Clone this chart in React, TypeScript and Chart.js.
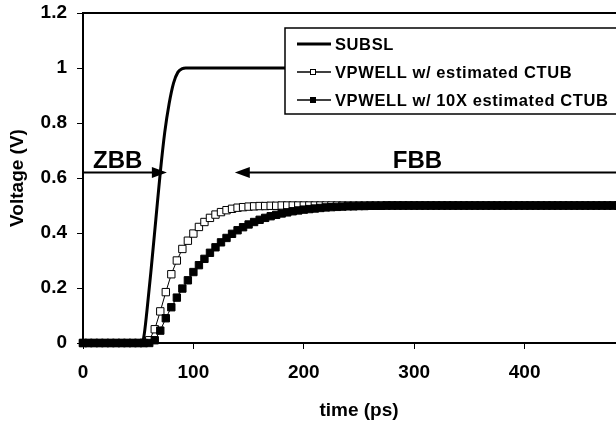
import { useEffect, useRef } from "react";
import { Chart, registerables } from "chart.js";

Chart.register(...registerables);

// ---------- data ----------
const timePs = [
  0, 5, 10, 15, 20, 25, 30, 35, 40, 45, 50, 55, 60, 65, 70, 75, 80, 85, 90, 95,
  100, 105, 110, 115, 120, 125, 130, 135, 140, 145, 150, 155, 160, 165, 170, 175, 180, 185, 190, 195,
  200, 205, 210, 215, 220, 225, 230, 235, 240, 245, 250, 255, 260, 265, 270, 275, 280, 285, 290, 295,
  300, 305, 310, 315, 320, 325, 330, 335, 340, 345, 350, 355, 360, 365, 370, 375, 380, 385, 390, 395,
  400, 405, 410, 415, 420, 425, 430, 435, 440, 445, 450, 455, 460, 465, 470, 475, 480, 485, 490, 495,
  500,
];

const vpwellEstimated = [
  0, 0, 0, 0, 0, 0, 0, 0, 0, 0, 0, 0, 0.01, 0.05, 0.115, 0.185, 0.25, 0.3, 0.342, 0.372,
  0.398, 0.422, 0.44, 0.455, 0.467, 0.476, 0.483, 0.488, 0.492, 0.494, 0.496, 0.497, 0.498, 0.498, 0.499, 0.499, 0.5, 0.5, 0.5, 0.5,
  0.5, 0.5, 0.5, 0.5, 0.5, 0.5, 0.5, 0.5, 0.5, 0.5, 0.5, 0.5, 0.5, 0.5, 0.5, 0.5, 0.5, 0.5, 0.5, 0.5,
  0.5, 0.5, 0.5, 0.5, 0.5, 0.5, 0.5, 0.5, 0.5, 0.5, 0.5, 0.5, 0.5, 0.5, 0.5, 0.5, 0.5, 0.5, 0.5, 0.5,
  0.5, 0.5, 0.5, 0.5, 0.5, 0.5, 0.5, 0.5, 0.5, 0.5, 0.5, 0.5, 0.5, 0.5, 0.5, 0.5, 0.5, 0.5, 0.5, 0.5,
  0.5,
];

const vpwell10x = [
  0, 0, 0, 0, 0, 0, 0, 0, 0, 0, 0, 0, 0, 0.01, 0.045, 0.09, 0.13, 0.165, 0.198, 0.228,
  0.258, 0.283, 0.306, 0.328, 0.348, 0.366, 0.382, 0.397, 0.41, 0.421, 0.431, 0.44, 0.448, 0.455, 0.461, 0.466, 0.471, 0.475, 0.479, 0.482,
  0.485, 0.487, 0.489, 0.491, 0.493, 0.494, 0.495, 0.496, 0.497, 0.497, 0.498, 0.498, 0.499, 0.499, 0.499, 0.5, 0.5, 0.5, 0.5, 0.5,
  0.5, 0.5, 0.5, 0.5, 0.5, 0.5, 0.5, 0.5, 0.5, 0.5, 0.5, 0.5, 0.5, 0.5, 0.5, 0.5, 0.5, 0.5, 0.5, 0.5,
  0.5, 0.5, 0.5, 0.5, 0.5, 0.5, 0.5, 0.5, 0.5, 0.5, 0.5, 0.5, 0.5, 0.5, 0.5, 0.5, 0.5, 0.5, 0.5, 0.5,
  0.5,
];

const subslTime = [0, 52, 55, 58, 62, 66, 70, 74, 78, 82, 86, 90, 93, 500];
const subslV = [0, 0, 0.02, 0.12, 0.28, 0.45, 0.62, 0.765, 0.87, 0.945, 0.985, 0.998, 1, 1];

const seriesLabels = ["SUBSL", "VPWELL w/ estimated CTUB", "VPWELL w/ 10X estimated CTUB"];
const xTitle = "time (ps)";
const yTitle = "Voltage (V)";

// annotation values (data units)
const annotationV = 0.623;
const zbbTip = 76;
const fbbTip = 137.5;
const zbbLabelT = 31.5;
const fbbLabelT = 303;

const FONT = '"Liberation Sans", Arial, sans-serif';

function arrowHead(ctx: CanvasRenderingContext2D, tipX: number, y: number, dir: number) {
  ctx.beginPath();
  ctx.moveTo(tipX, y);
  ctx.lineTo(tipX - dir * 15, y - 5.5);
  ctx.lineTo(tipX - dir * 15, y + 5.5);
  ctx.closePath();
  ctx.fill();
}

const overlayPlugin = {
  id: "overlay",
  afterDraw(chart: any) {
    const { ctx, chartArea, scales } = chart;
    const xs = scales.x;
    const ys = scales.y;
    ctx.save();
    // top border of plot area
    ctx.strokeStyle = "#000";
    ctx.lineWidth = 2;
    ctx.beginPath();
    ctx.moveTo(chartArea.left - 1, chartArea.top);
    ctx.lineTo(chartArea.right, chartArea.top);
    ctx.stroke();

    // arrows
    const ay = Math.round(ys.getPixelForValue(annotationV)) + 0.5;
    ctx.fillStyle = "#000";
    ctx.lineWidth = 2;
    const x0 = xs.getPixelForValue(0);
    const xz = xs.getPixelForValue(zbbTip);
    ctx.beginPath();
    ctx.moveTo(x0, ay);
    ctx.lineTo(xz - 10, ay);
    ctx.stroke();
    arrowHead(ctx, xz, ay, 1);
    const xf = xs.getPixelForValue(fbbTip);
    ctx.beginPath();
    ctx.moveTo(xf + 10, ay);
    ctx.lineTo(chart.width, ay);
    ctx.stroke();
    arrowHead(ctx, xf, ay, -1);

    ctx.font = `bold 24px ${FONT}`;
    ctx.textAlign = "center";
    ctx.textBaseline = "alphabetic";
    ctx.fillText("ZBB", xs.getPixelForValue(zbbLabelT), ay - 5);
    ctx.fillText("FBB", xs.getPixelForValue(fbbLabelT), ay - 5);

    // legend box
    const lx = 285;
    const ly = 28;
    const lh = 86;
    ctx.fillStyle = "#fff";
    ctx.fillRect(lx, ly, chart.width - lx + 10, lh);
    ctx.strokeStyle = "#000";
    ctx.lineWidth = 1.5;
    ctx.strokeRect(lx, ly, chart.width - lx + 10, lh);

    const rows = [44, 72, 100];
    ctx.font = `bold 16.5px ${FONT}`;
    ctx.textAlign = "left";
    ctx.textBaseline = "middle";
    (ctx as any).letterSpacing = "0.6px";
    chart.data.datasets.forEach((ds: any, i: number) => {
      const ry = rows[i];
      ctx.strokeStyle = "#000";
      ctx.lineWidth = i === 0 ? 3 : 1.5;
      ctx.beginPath();
      ctx.moveTo(297, ry);
      ctx.lineTo(331, ry);
      ctx.stroke();
      if (i > 0) {
        ctx.fillStyle = ds.pointBackgroundColor;
        ctx.fillRect(310, ry - 3, 6, 6);
        ctx.lineWidth = 1;
        ctx.strokeRect(310.5, ry - 2.5, 5, 5);
      }
      ctx.fillStyle = "#000";
      ctx.fillText(ds.label, 335, ry + 1);
    });
    ctx.restore();
  },
};

const fmtTick = (v: any) => String(Math.round(Number(v) * 10) / 10);

export default function App() {
  const canvasRef = useRef<HTMLCanvasElement | null>(null);

  useEffect(() => {
    const canvas = canvasRef.current;
    if (!canvas) return;
    const tickFont = { family: FONT, size: 19, weight: "bold" as const };
    const chart = new Chart(canvas, {
      type: "line",
      data: {
        datasets: [
          {
            label: seriesLabels[0],
            data: subslTime.map((t, i) => ({ x: t, y: subslV[i] })),
            borderColor: "#000",
            borderWidth: 3,
            pointRadius: 0,
            cubicInterpolationMode: "monotone",
            clip: false as any,
            order: 0,
          },
          {
            label: seriesLabels[1],
            data: timePs.map((t, i) => ({ x: t, y: vpwellEstimated[i] })),
            borderColor: "#000",
            borderWidth: 1,
            pointStyle: "rect",
            pointRadius: 5.2,
            pointBorderWidth: 1,
            pointBorderColor: "#000",
            pointBackgroundColor: "#fff",
            clip: false as any,
            order: 2,
          },
          {
            label: seriesLabels[2],
            data: timePs.map((t, i) => ({ x: t, y: vpwell10x[i] })),
            borderColor: "#000",
            borderWidth: 1,
            pointStyle: "rect",
            pointRadius: 5.2,
            pointBorderWidth: 1,
            pointBorderColor: "#000",
            pointBackgroundColor: "#000",
            clip: false as any,
            order: 1,
          },
        ],
      },
      options: {
        animation: false,
        responsive: false,
        devicePixelRatio: 1,
        layout: { padding: { left: 0, top: 13, right: 20, bottom: 0 } },
        plugins: {
          legend: { display: false },
          tooltip: { enabled: false },
        },
        scales: {
          x: {
            type: "linear",
            min: 0,
            max: 500,
            ticks: { stepSize: 100, color: "#000", font: tickFont, padding: 12, maxRotation: 0 },
            grid: { drawOnChartArea: false, drawTicks: true, tickLength: 6, color: "#000", lineWidth: 1 },
            border: { display: true, color: "#000", width: 2 },
            title: { display: true, text: xTitle, color: "#000", font: tickFont, padding: { top: 0, bottom: 2 } },
            afterFit: (scale: any) => {
              scale.height = 81;
              scale.paddingLeft = 0;
              scale.paddingRight = 0;
            },
          },
          y: {
            type: "linear",
            min: 0,
            max: 1.2,
            ticks: { stepSize: 0.2, color: "#000", font: tickFont, padding: 10, callback: fmtTick },
            grid: { drawOnChartArea: false, drawTicks: true, tickLength: 6, color: "#000", lineWidth: 1 },
            border: { display: true, color: "#000", width: 2 },
            title: { display: true, text: yTitle, color: "#000", font: tickFont, padding: { top: 6, bottom: 0 } },
            afterFit: (scale: any) => {
              scale.width = 83;
              scale.paddingTop = 0;
              scale.paddingBottom = 0;
            },
          },
        },
      },
      plugins: [overlayPlugin],
    });
    return () => chart.destroy();
  }, []);

  return (
    <div
      style={{
        position: "fixed",
        left: 0,
        top: 0,
        width: 616,
        height: 424,
        overflow: "hidden",
        background: "#fff",
      }}
    >
      <canvas ref={canvasRef} width={655} height={424} style={{ display: "block" }} />
    </div>
  );
}
